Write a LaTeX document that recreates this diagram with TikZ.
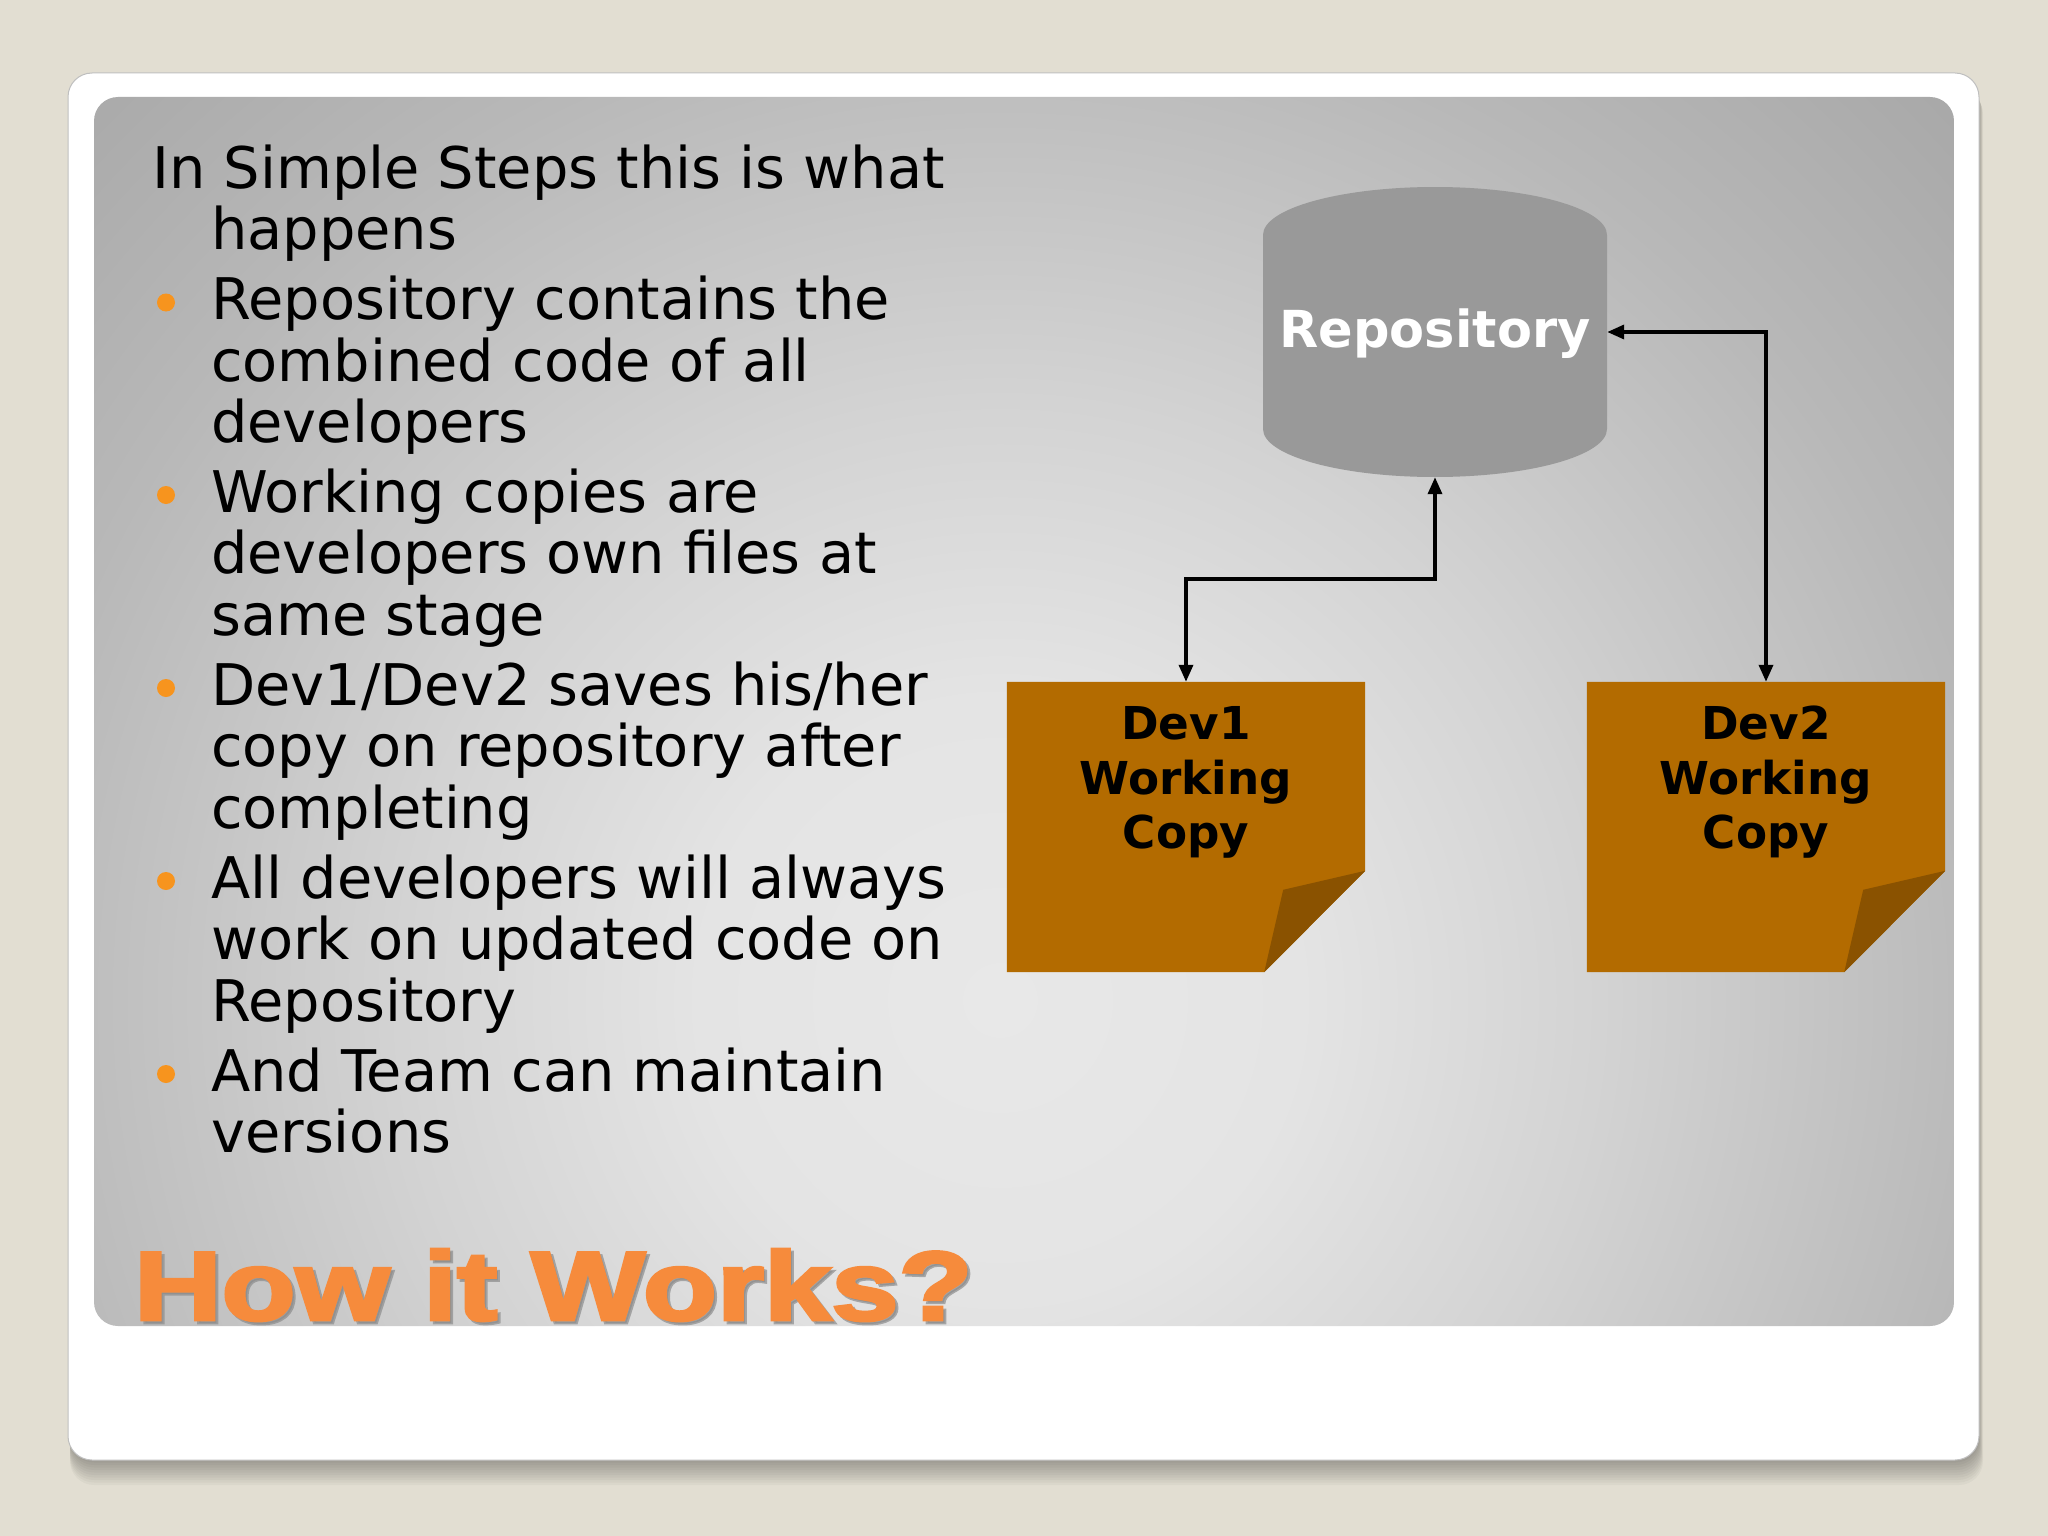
\documentclass[tikz,border=0pt]{standalone}
\usepackage{fontspec}
\usepackage{graphicx}
\usetikzlibrary{arrows.meta,calc}
\newfontfamily\bodyfont{DejaVu Sans}
\newfontfamily\titlefont{Liberation Sans}[BoldFeatures={FakeBold=3}]
\definecolor{bgbeige}{HTML}{E2DED2}
\definecolor{repogray}{HTML}{999999}
\definecolor{devorange}{HTML}{B36B00}
\definecolor{devfold}{HTML}{8A5200}
\definecolor{bulletorange}{HTML}{F7941E}
\definecolor{titleorange}{HTML}{F68B3C}
\definecolor{titleshadow}{HTML}{8C8C8C}
\definecolor{pcA}{HTML}{E8E8E8}
\definecolor{pcB}{HTML}{E4E4E4}
\definecolor{pcC}{HTML}{D3D3D3}
\definecolor{pcD}{HTML}{C2C2C2}
\definecolor{pcE}{HTML}{B8B8B8}
\definecolor{pcF}{HTML}{A9A9A9}
\pgfdeclareradialshading{panelshade}{\pgfpoint{0bp}{0bp}}{color(0bp)=(pcA); color(5.77bp)=(pcB); color(11.54bp)=(pcC); color(16.35bp)=(pcD); color(19.23bp)=(pcE); color(25bp)=(pcF); color(50bp)=(pcF)}
\tikzset{
  bodyline/.style={anchor=base west, inner sep=0pt, font=\bodyfont\fontsize{57.4}{70}\selectfont, text=black},
  bulletdot/.style={circle, fill=bulletorange, minimum size=18pt, inner sep=0pt},
  devline/.style={anchor=base, inner sep=0pt, font=\bodyfont\bfseries\fontsize{45.3}{55}\selectfont, text=black},
  repolabel/.style={anchor=base, inner sep=0pt, font=\bodyfont\bfseries\fontsize{51}{60}\selectfont, text=white},
  titletext/.style={anchor=base west, inner sep=0pt, font=\titlefont\bfseries\fontsize{98}{110}\selectfont},
  conn/.style={draw=black, line width=3.5pt, {Triangle[length=17pt,width=14pt]}-{Triangle[length=17pt,width=14pt]}},
  devarea/.style={minimum width=358pt, minimum height=290pt, inner sep=0pt},
  repoarea/.style={minimum width=344pt, minimum height=290pt, inner sep=0pt},
}
\begin{document}
\begin{tikzpicture}[x=1pt,y=-1pt]
\useasboundingbox (0,0) rectangle (2048,1536);
\fill[bgbeige] (0,0) rectangle (2048,1536);
% card shadow
\foreach \i in {1,...,10} {
  \fill[black, opacity=0.03, rounded corners=24pt] (70,80+\i) rectangle (1979+\i*0.4,1460+\i*2.5);
}
% card
\fill[white, draw=black!25, line width=1pt, rounded corners=24pt] (68,73) rectangle (1979,1460);
% panel
\begin{scope}
  \path[clip, rounded corners=24pt] (94,97) rectangle (1954,1326);
  \shade[shading=panelshade] (-300,-300) rectangle (2300,2300);
\end{scope}

% body text
\node[bodyline] (l1) at (152,188) {In Simple Steps this is what};
\node[bodyline] (l2) at (211,249.5) {happens};
\node[bulletdot] (b1) at (166,302.5) {};
\node[bodyline] (l3) at (211,319.5) {Repository contains the};
\node[bodyline] (l4) at (211,381) {combined code of all};
\node[bodyline] (l5) at (211,442) {developers};
\node[bulletdot] (b2) at (166,495) {};
\node[bodyline] (l6) at (211,512) {Working copies are};
\node[bodyline] (l7) at (211,573) {developers own files at};
\node[bodyline] (l8) at (211,635) {same stage};
\node[bulletdot] (b3) at (166,688) {};
\node[bodyline] (l9) at (211,705) {Dev1/Dev2 saves his/her};
\node[bodyline] (l10) at (211,766) {copy on repository after};
\node[bodyline] (l11) at (211,828) {completing};
\node[bulletdot] (b4) at (166,881) {};
\node[bodyline] (l12) at (211,898) {All developers will always};
\node[bodyline] (l13) at (211,959) {work on updated code on};
\node[bodyline] (l14) at (211,1021) {Repository};
\node[bulletdot] (b5) at (166,1074) {};
\node[bodyline] (l15) at (211,1091) {And Team can maintain};
\node[bodyline] (l16) at (211,1152) {versions};

% title
\node[titletext, text=titleshadow, opacity=0.7] (titleshadow) at (137,1323) {\scalebox{1.235}[1]{How it Works?}};
\node[titletext, text=titleorange] (title) at (134,1320) {\scalebox{1.235}[1]{How it Works?}};

% repository cylinder
\node[repoarea] (repo) at (1435,332) {};
\fill[repogray] (1263,235) arc[start angle=180, end angle=360, x radius=172, y radius=48]
  -- (1607,429) arc[start angle=0, end angle=180, x radius=172, y radius=48] -- cycle;
\node[repolabel] (repot) at (1435,347) {Repository};

% dev working copies
\node[devarea] (dev1) at (1186,827) {};
\node[devarea] (dev2) at (1766,827) {};
\foreach \d in {dev1,dev2} {
  \fill[devorange] (\d.north west) -- (\d.north east) -- ($(\d.north east)+(0,189)$)
    -- ($(\d.south east)+(-101,0)$) -- (\d.south west) -- cycle;
  \fill[devfold] ($(\d.north east)+(0,189)$) -- ($(\d.north east)+(-82,208)$)
    -- ($(\d.south east)+(-101,0)$) -- cycle;
}
\node[devline] (d1a) at (1186,739) {Dev1};
\node[devline] (d1b) at (1186,794) {Working};
\node[devline] (d1c) at (1186,848) {Copy};
\node[devline] (d2a) at (1766,739) {Dev2};
\node[devline] (d2b) at (1766,794) {Working};
\node[devline] (d2c) at (1766,848) {Copy};

% connectors
\draw[conn] (repo.south) -- ++(0,102) -| (dev1.north);
\draw[conn] (repo.east) -| (dev2.north);
\end{tikzpicture}
\end{document}
